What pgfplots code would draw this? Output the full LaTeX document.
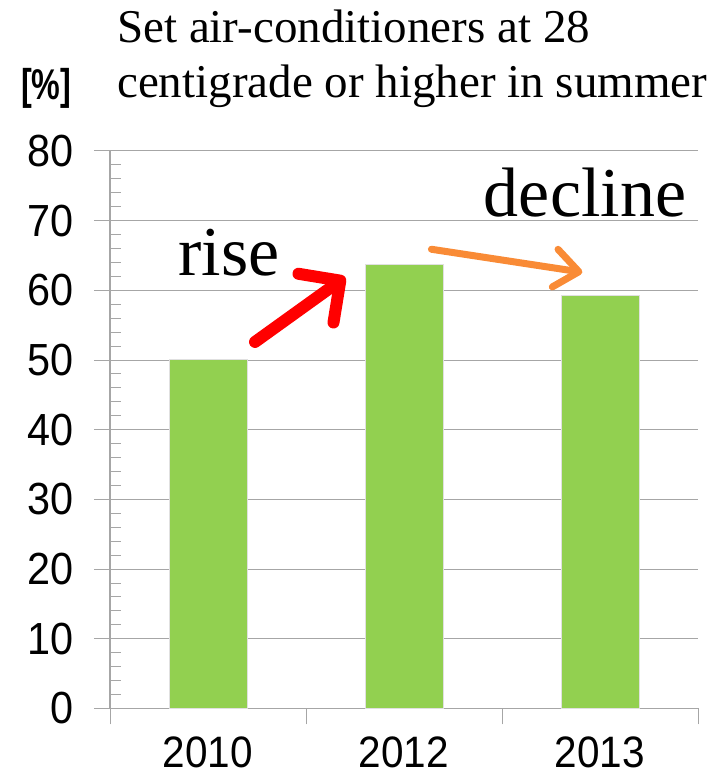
\documentclass[border=0pt]{standalone}
\usepackage{fontspec}
\setmainfont{Liberation Serif}
\newfontfamily\tickfont[FakeStretch=0.92]{Liberation Sans}
\newfontfamily\pctfont[FakeStretch=0.75]{Liberation Sans}
\usepackage{pgfplots}
\pgfplotsset{compat=1.18}
\usetikzlibrary{arrows.meta}
\definecolor{barg}{HTML}{92D050}
\definecolor{gridc}{HTML}{A6A6A6}
\definecolor{arrred}{HTML}{FF0000}
\definecolor{arrorg}{HTML}{F98B36}
\begin{document}
\begin{tikzpicture}
\path[use as bounding box] (0,0) rectangle (727bp,780bp);
\begin{axis}[
  at={(110bp,71.5bp)}, anchor=south west,
  scale only axis, width=588bp, height=557.5bp,
  xmin=-0.5, xmax=2.5, ymin=0, ymax=80,
  axis lines*=left,
  axis line style={gridc, line width=1.2bp},
  ytick={0,10,...,80},
  minor y tick num=4,
  ymajorgrids,
  major grid style={gridc, line width=1bp},
  tick style={gridc, line width=1bp},
  tick align=outside,
  major tick length=16bp,
  minor tick length=11bp,
  minor y tick style={xshift=11bp},
  xtick={-0.5,0.5,1.5,2.5},
  xticklabels={},
  extra x ticks={0,1,2},
  extra x tick labels={2010,2012,2013},
  extra x tick style={major tick length=0pt},
  /pgf/number format/assume math mode=true,
  ticklabel style={font=\tickfont\fontsize{45bp}{45bp}\selectfont, inner sep=0pt},
  yticklabel style={xshift=-20bp},
  xticklabel style={yshift=-28bp, font=\tickfont\fontsize{44bp}{44bp}\selectfont},
  clip=false,
]
\addplot[ybar, bar width=78bp, fill=barg, draw=black!12, line width=1bp] coordinates {(0,50.1) (1,63.7) (2,59.2)};
\draw[arrred, line width=12bp, line cap=round, -{Straight Barb[length=30bp, width=60bp, round]}] (axis cs:0.24,52.6) -- (axis cs:0.70,61.9);
\draw[arrorg, line width=7bp, line cap=round, -{Straight Barb[length=24bp, width=38bp, round]}] (axis cs:1.14,65.9) -- (axis cs:1.91,62.6);
\end{axis}
\node[anchor=base west, inner sep=0, font=\fontsize{47bp}{47bp}\selectfont] at (117bp,737bp) {Set air-conditioners at 28};
\node[anchor=base west, inner sep=0, font=\fontsize{47bp}{47bp}\selectfont] at (117bp,682bp) {centigrade or higher in summer};
\node[anchor=base west, inner sep=0, font=\pctfont\bfseries\fontsize{43bp}{43bp}\selectfont] at (21bp,680bp) {[\%]};
\node[anchor=base, inner sep=0, font=\fontsize{70bp}{70bp}\selectfont] at (229bp,504bp) {rise};
\node[anchor=base, inner sep=0, font=\fontsize{70bp}{70bp}\selectfont] at (585bp,563bp) {decline};
\end{tikzpicture}
\end{document}
